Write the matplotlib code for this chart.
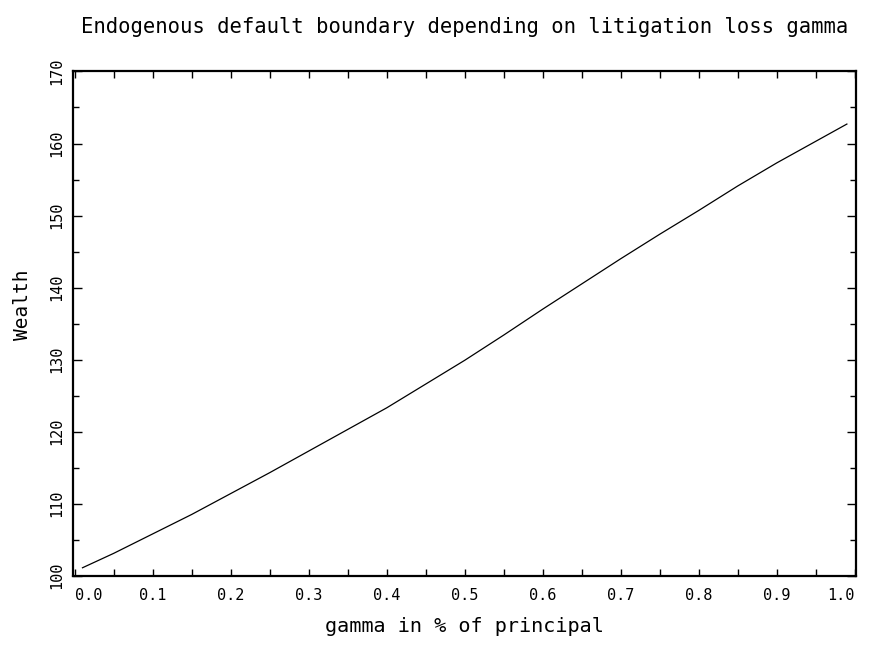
import numpy as np
import matplotlib.pyplot as plt
from matplotlib.ticker import MultipleLocator

# gamma (share of principal lost in litigation) and the resulting default boundary
gamma = [0.01, 0.05, 0.10, 0.15, 0.20, 0.25, 0.30, 0.35, 0.40, 0.45, 0.50,
         0.55, 0.60, 0.65, 0.70, 0.75, 0.80, 0.85, 0.90, 0.95, 0.99]
wealth = [101.1, 103.1, 105.8, 108.5, 111.4, 114.3, 117.3, 120.3, 123.3, 126.6, 129.9,
          133.4, 137.0, 140.5, 144.0, 147.4, 150.7, 154.1, 157.3, 160.3, 162.7]

x_ticks = [0.0, 0.1, 0.2, 0.3, 0.4, 0.5, 0.6, 0.7, 0.8, 0.9, 1.0]
x_ticklabels = ["0.0", "0.1", "0.2", "0.3", "0.4", "0.5", "0.6", "0.7", "0.8", "0.9", "1.0"]
y_ticks = [100, 110, 120, 130, 140, 150, 160, 170]

plt.rcParams['font.family'] = ['DejaVu Sans Mono']

fig = plt.figure(figsize=(8.75, 6.48), dpi=100)
ax = fig.add_axes([0.0834, 0.1116, 0.8949, 0.7781])

ax.plot(gamma, wealth, color='black', linewidth=0.9)

ax.set_xlim(-0.0022, 1.0017)
ax.set_ylim(100, 170)

ax.set_xticks(x_ticks)
ax.set_xticklabels(x_ticklabels)
ax.xaxis.set_minor_locator(MultipleLocator(0.05))
ax.set_yticks(y_ticks)
ax.yaxis.set_minor_locator(MultipleLocator(5))

for lbl in ax.get_yticklabels():
    lbl.set_rotation(90)
    lbl.set_va('center')
# first x label sits right of the corner
ax.get_xticklabels()[0].set_horizontalalignment('left')
ax.get_xticklabels()[-1].set_horizontalalignment('right')

ax.tick_params(axis='x', which='both', direction='in', length=5, width=1,
               top=True, bottom=True, labelsize=11, pad=9)
ax.tick_params(axis='y', which='major', direction='in', length=6.5, width=1,
               left=True, right=True, labelsize=11, pad=6)
ax.tick_params(axis='y', which='minor', direction='in', length=4.5, width=1,
               left=True, right=True)

for sp in ax.spines.values():
    sp.set_linewidth(1.6)

ax.set_xlabel("gamma in % of principal", fontsize=14.5, labelpad=10)
ax.set_ylabel("Wealth", fontsize=14)
ax.yaxis.set_label_coords(-0.052, 0.537)
ax.set_title("Endogenous default boundary depending on litigation loss gamma",
             fontsize=14.8, pad=28)

fig.savefig("out.png", dpi=100)
